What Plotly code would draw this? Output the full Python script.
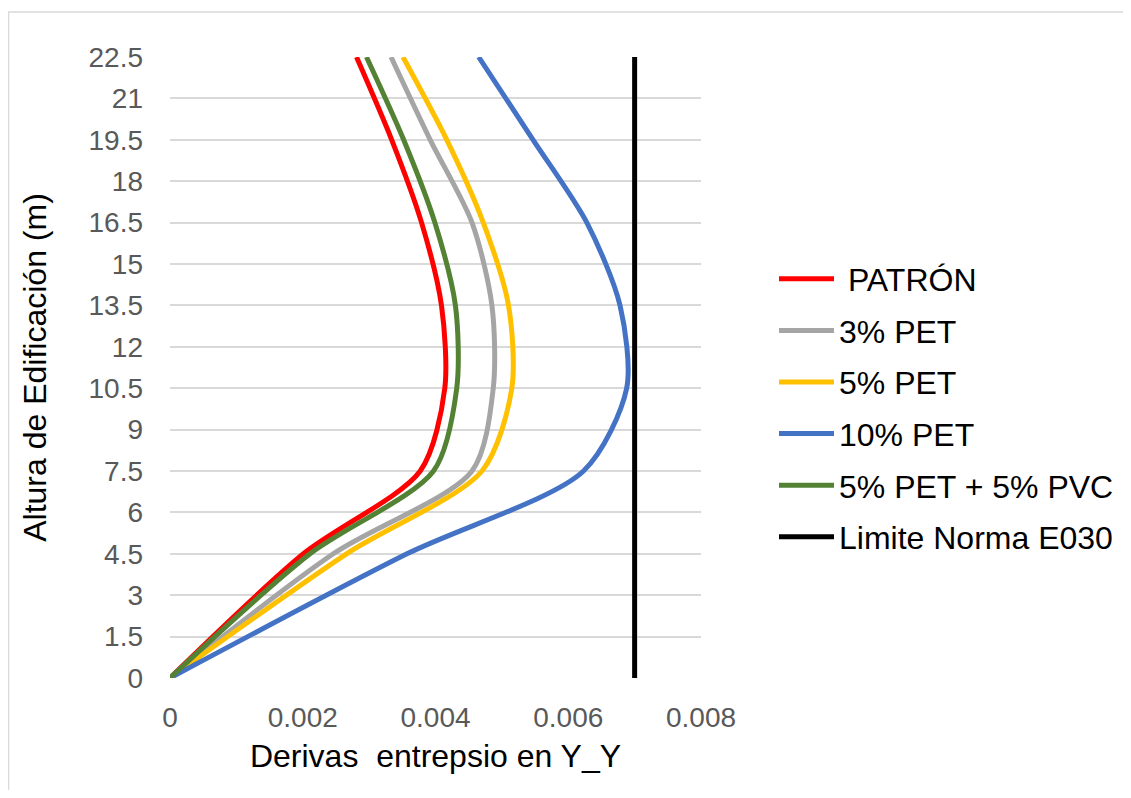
import plotly.graph_objects as go

heights = [0, 4.5, 7.5, 10.5, 13.5, 16.5, 19.5, 22.5]
patron = [0, 0.00201, 0.00377, 0.00414, 0.00409, 0.00379, 0.00334, 0.00281]
pet3 = [0, 0.00246, 0.00455, 0.00487, 0.00485, 0.00455, 0.00392, 0.00333]
pet5 = [0, 0.00266, 0.00470, 0.00515, 0.00510, 0.00472, 0.00417, 0.00351]
pet10 = [0, 0.00357, 0.00623, 0.00688, 0.00678, 0.00628, 0.00547, 0.00465]
pet5_pvc5 = [0, 0.00211, 0.00397, 0.00432, 0.00430, 0.00399, 0.00352, 0.00296]
limit_x = [0.007, 0.007]
limit_y = [0, 22.5]

x_ticks = [0, 0.002, 0.004, 0.006, 0.008]
x_ticklabels = ["0", "0.002", "0.004", "0.006", "0.008"]
y_ticks = [0, 1.5, 3, 4.5, 6, 7.5, 9, 10.5, 12, 13.5, 15, 16.5, 18, 19.5, 21, 22.5]
y_ticklabels = ["0", "1.5", "3", "4.5", "6", "7.5", "9", "10.5", "12", "13.5",
                "15", "16.5", "18", "19.5", "21", "22.5"]

series = [
    (" PATRÓN", patron, "#FF0000"),
    ("3% PET", pet3, "#A5A5A5"),
    ("5% PET", pet5, "#FFC000"),
    ("10% PET", pet10, "#4472C4"),
    ("5% PET + 5% PVC", pet5_pvc5, "#548235"),
]

fig = go.Figure()
for i, (name, xs, col) in enumerate(series):
    fig.add_trace(go.Scatter(x=xs, y=heights, mode="lines", name=name,
                             legendgroup=str(i),
                             line=dict(color=col, width=5, shape="spline", smoothing=0.8)))
fig.add_trace(go.Scatter(x=limit_x, y=limit_y, mode="lines", name="Limite Norma E030",
                         legendgroup="6", line=dict(color="#000000", width=5)))

# page body has an 8px margin; figure sized so the page is 1131x798
W, H = 1115, 782
L, R, T, B = 162, 422, 49, 112
pw, ph = W - L - R, H - T - B

fig.update_layout(
    width=W, height=H,
    margin=dict(l=L, r=R, t=T, b=B, autoexpand=False),
    paper_bgcolor="white", plot_bgcolor="white",
    font=dict(family="Liberation Sans, Arial, sans-serif", color="#000000"),
    showlegend=True,
    legend=dict(x=(766 - L) / pw, y=1 - (400 - T) / ph, xanchor="left", yanchor="middle",
                font=dict(size=32, color="#000000"),
                tracegroupgap=7, itemwidth=55,
                bgcolor="rgba(0,0,0,0)"),
    xaxis=dict(range=[0, 0.008], tickvals=x_ticks, ticktext=x_ticklabels,
               showgrid=False, zeroline=False, showline=False,
               tickfont=dict(size=28, color="#595959"),
               ticks="", ticklabelstandoff=20,
               title=dict(text="Derivas  entrepsio en Y_Y", font=dict(size=32, color="#000000"), standoff=12)),
    yaxis=dict(range=[0, 22.5], tickvals=y_ticks, ticktext=y_ticklabels,
               showgrid=True, gridcolor="#D9D9D9", gridwidth=1.5,
               zeroline=False, showline=False,
               tickfont=dict(size=28, color="#595959"),
               ticks="", ticklabelstandoff=26,
               title=dict(text="Altura de Edificación (m)", font=dict(size=32, color="#000000"), standoff=32)),
)

fig.add_shape(type="rect", xref="paper", yref="paper",
              x0=(0.5 - L) / pw, x1=(W + 20 - L) / pw,
              y0=-(H + 20 - T - ph) / ph, y1=1 + (T - 4) / ph,
              line=dict(color="#D9D9D9", width=1.5), fillcolor="rgba(0,0,0,0)", layer="below")

fig.write_html("out.html")
